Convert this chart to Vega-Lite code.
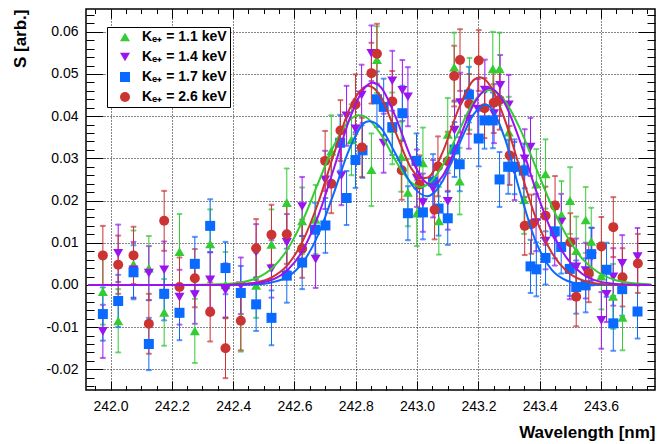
{
"$schema": "https://vega.github.io/schema/vega-lite/v6.json",
"width": 569, "height": 381,
"autosize": {"type": "none"},
"padding": {"left": 86, "top": 9, "right": 12, "bottom": 54},
"background": "white",
"config": {"view": {"stroke": "black", "strokeWidth": 1.5}},
"datasets": {
"pts": [
{"s":"1.1","x":241.975,"y":-0.0016,"ey":0.0078},{"s":"1.1","x":242.025,"y":-0.0085,"ey":0.0075},{"s":"1.1","x":242.075,"y":0.0049,"ey":0.0080},{"s":"1.1","x":242.125,"y":0.0040,"ey":0.0076},{"s":"1.1","x":242.175,"y":-0.0065,"ey":0.0079},{"s":"1.1","x":242.225,"y":0.0079,"ey":0.0089},{"s":"1.1","x":242.275,"y":-0.0109,"ey":0.0076},{"s":"1.1","x":242.325,"y":0.0097,"ey":0.0082},{"s":"1.1","x":242.375,"y":0.0000,"ey":0.0078},{"s":"1.1","x":242.425,"y":-0.0078,"ey":0.0080},{"s":"1.1","x":242.475,"y":-0.0001,"ey":0.0077},{"s":"1.1","x":242.525,"y":0.0096,"ey":0.0083},{"s":"1.1","x":242.575,"y":0.0195,"ey":0.0081},{"s":"1.1","x":242.625,"y":0.0152,"ey":0.0079},{"s":"1.1","x":242.669,"y":0.0155,"ey":0.0082},{"s":"1.1","x":242.720,"y":0.0317,"ey":0.0085},{"s":"1.1","x":242.786,"y":0.0344,"ey":0.0084},{"s":"1.1","x":242.851,"y":0.0273,"ey":0.0086},{"s":"1.1","x":242.869,"y":0.0534,"ey":0.0079},{"s":"1.1","x":242.919,"y":0.0371,"ey":0.0085},{"s":"1.1","x":242.948,"y":0.0304,"ey":0.0083},{"s":"1.1","x":242.970,"y":0.0219,"ey":0.0080},{"s":"1.1","x":242.999,"y":0.0170,"ey":0.0078},{"s":"1.1","x":243.019,"y":0.0289,"ey":0.0084},{"s":"1.1","x":243.071,"y":0.0152,"ey":0.0080},{"s":"1.1","x":243.100,"y":0.0357,"ey":0.0086},{"s":"1.1","x":243.121,"y":0.0516,"ey":0.0082},{"s":"1.1","x":243.139,"y":0.0246,"ey":0.0079},{"s":"1.1","x":243.171,"y":0.0453,"ey":0.0085},{"s":"1.1","x":243.247,"y":0.0512,"ey":0.0088},{"s":"1.1","x":243.269,"y":0.0512,"ey":0.0086},{"s":"1.1","x":243.299,"y":0.0362,"ey":0.0084},{"s":"1.1","x":243.349,"y":0.0202,"ey":0.0081},{"s":"1.1","x":243.389,"y":0.0239,"ey":0.0083},{"s":"1.1","x":243.419,"y":0.0263,"ey":0.0082},{"s":"1.1","x":243.471,"y":0.0166,"ey":0.0080},{"s":"1.1","x":243.499,"y":0.0200,"ey":0.0079},{"s":"1.1","x":243.519,"y":0.0081,"ey":0.0081},{"s":"1.1","x":243.550,"y":0.0154,"ey":0.0078},{"s":"1.1","x":243.568,"y":0.0103,"ey":0.0080},{"s":"1.1","x":243.601,"y":0.0021,"ey":0.0079},{"s":"1.1","x":243.639,"y":-0.0027,"ey":0.0077},{"s":"1.1","x":243.670,"y":-0.0077,"ey":0.0078},
{"s":"1.4","x":241.975,"y":-0.0110,"ey":0.0063},{"s":"1.4","x":242.025,"y":0.0075,"ey":0.0068},{"s":"1.4","x":242.075,"y":0.0036,"ey":0.0066},{"s":"1.4","x":242.125,"y":0.0028,"ey":0.0064},{"s":"1.4","x":242.175,"y":0.0036,"ey":0.0067},{"s":"1.4","x":242.225,"y":-0.0029,"ey":0.0065},{"s":"1.4","x":242.275,"y":-0.0023,"ey":0.0069},{"s":"1.4","x":242.325,"y":0.0012,"ey":0.0066},{"s":"1.4","x":242.375,"y":-0.0013,"ey":0.0064},{"s":"1.4","x":242.425,"y":-0.0002,"ey":0.0067},{"s":"1.4","x":242.475,"y":0.0078,"ey":0.0066},{"s":"1.4","x":242.525,"y":0.0038,"ey":0.0068},{"s":"1.4","x":242.575,"y":0.0101,"ey":0.0067},{"s":"1.4","x":242.625,"y":0.0186,"ey":0.0070},{"s":"1.4","x":242.669,"y":0.0061,"ey":0.0068},{"s":"1.4","x":242.700,"y":0.0249,"ey":0.0069},{"s":"1.4","x":242.753,"y":0.0259,"ey":0.0070},{"s":"1.4","x":242.770,"y":0.0401,"ey":0.0071},{"s":"1.4","x":242.799,"y":0.0370,"ey":0.0070},{"s":"1.4","x":242.819,"y":0.0450,"ey":0.0072},{"s":"1.4","x":242.851,"y":0.0549,"ey":0.0066},{"s":"1.4","x":242.891,"y":0.0336,"ey":0.0070},{"s":"1.4","x":242.919,"y":0.0484,"ey":0.0071},{"s":"1.4","x":242.952,"y":0.0461,"ey":0.0072},{"s":"1.4","x":242.970,"y":0.0446,"ey":0.0070},{"s":"1.4","x":242.999,"y":0.0253,"ey":0.0068},{"s":"1.4","x":243.019,"y":0.0195,"ey":0.0069},{"s":"1.4","x":243.052,"y":0.0228,"ey":0.0068},{"s":"1.4","x":243.100,"y":0.0198,"ey":0.0067},{"s":"1.4","x":243.122,"y":0.0367,"ey":0.0070},{"s":"1.4","x":243.141,"y":0.0432,"ey":0.0071},{"s":"1.4","x":243.169,"y":0.0393,"ey":0.0070},{"s":"1.4","x":243.198,"y":0.0417,"ey":0.0071},{"s":"1.4","x":243.221,"y":0.0462,"ey":0.0072},{"s":"1.4","x":243.251,"y":0.0406,"ey":0.0070},{"s":"1.4","x":243.271,"y":0.0473,"ey":0.0072},{"s":"1.4","x":243.299,"y":0.0427,"ey":0.0071},{"s":"1.4","x":243.318,"y":0.0270,"ey":0.0069},{"s":"1.4","x":243.351,"y":0.0299,"ey":0.0070},{"s":"1.4","x":243.370,"y":0.0327,"ey":0.0069},{"s":"1.4","x":243.388,"y":0.0148,"ey":0.0068},{"s":"1.4","x":243.419,"y":0.0104,"ey":0.0067},{"s":"1.4","x":243.449,"y":0.0114,"ey":0.0068},{"s":"1.4","x":243.470,"y":0.0149,"ey":0.0067},{"s":"1.4","x":243.498,"y":0.0032,"ey":0.0066},{"s":"1.4","x":243.519,"y":0.0043,"ey":0.0067},{"s":"1.4","x":243.550,"y":0.0034,"ey":0.0066},{"s":"1.4","x":243.570,"y":0.0067,"ey":0.0068},{"s":"1.4","x":243.601,"y":-0.0084,"ey":0.0067},{"s":"1.4","x":243.618,"y":-0.0022,"ey":0.0066},{"s":"1.4","x":243.640,"y":0.0019,"ey":0.0068},{"s":"1.4","x":243.669,"y":0.0051,"ey":0.0067},{"s":"1.4","x":243.719,"y":0.0067,"ey":0.0068},
{"s":"1.7","x":241.975,"y":-0.0069,"ey":0.0063},{"s":"1.7","x":242.025,"y":-0.0038,"ey":0.0062},{"s":"1.7","x":242.075,"y":0.0030,"ey":0.0064},{"s":"1.7","x":242.125,"y":-0.0140,"ey":0.0062},{"s":"1.7","x":242.175,"y":-0.0021,"ey":0.0063},{"s":"1.7","x":242.225,"y":-0.0066,"ey":0.0065},{"s":"1.7","x":242.275,"y":0.0050,"ey":0.0064},{"s":"1.7","x":242.325,"y":0.0140,"ey":0.0063},{"s":"1.7","x":242.375,"y":0.0040,"ey":0.0062},{"s":"1.7","x":242.425,"y":-0.0019,"ey":0.0064},{"s":"1.7","x":242.475,"y":-0.0046,"ey":0.0063},{"s":"1.7","x":242.525,"y":-0.0078,"ey":0.0065},{"s":"1.7","x":242.575,"y":0.0022,"ey":0.0064},{"s":"1.7","x":242.625,"y":0.0053,"ey":0.0063},{"s":"1.7","x":242.667,"y":0.0131,"ey":0.0064},{"s":"1.7","x":242.701,"y":0.0141,"ey":0.0065},{"s":"1.7","x":242.749,"y":0.0337,"ey":0.0066},{"s":"1.7","x":242.770,"y":0.0206,"ey":0.0064},{"s":"1.7","x":242.799,"y":0.0296,"ey":0.0066},{"s":"1.7","x":242.822,"y":0.0319,"ey":0.0065},{"s":"1.7","x":242.869,"y":0.0440,"ey":0.0066},{"s":"1.7","x":242.891,"y":0.0422,"ey":0.0067},{"s":"1.7","x":242.919,"y":0.0374,"ey":0.0066},{"s":"1.7","x":242.952,"y":0.0407,"ey":0.0065},{"s":"1.7","x":242.970,"y":0.0170,"ey":0.0064},{"s":"1.7","x":242.998,"y":0.0294,"ey":0.0065},{"s":"1.7","x":243.019,"y":0.0172,"ey":0.0064},{"s":"1.7","x":243.052,"y":0.0245,"ey":0.0065},{"s":"1.7","x":243.070,"y":0.0181,"ey":0.0064},{"s":"1.7","x":243.100,"y":0.0158,"ey":0.0063},{"s":"1.7","x":243.122,"y":0.0321,"ey":0.0065},{"s":"1.7","x":243.139,"y":0.0286,"ey":0.0064},{"s":"1.7","x":243.169,"y":0.0451,"ey":0.0066},{"s":"1.7","x":243.201,"y":0.0347,"ey":0.0066},{"s":"1.7","x":243.220,"y":0.0390,"ey":0.0067},{"s":"1.7","x":243.247,"y":0.0390,"ey":0.0066},{"s":"1.7","x":243.269,"y":0.0250,"ey":0.0065},{"s":"1.7","x":243.297,"y":0.0280,"ey":0.0064},{"s":"1.7","x":243.318,"y":0.0280,"ey":0.0065},{"s":"1.7","x":243.348,"y":0.0271,"ey":0.0064},{"s":"1.7","x":243.370,"y":0.0044,"ey":0.0063},{"s":"1.7","x":243.389,"y":0.0037,"ey":0.0064},{"s":"1.7","x":243.419,"y":0.0064,"ey":0.0063},{"s":"1.7","x":243.449,"y":0.0127,"ey":0.0064},{"s":"1.7","x":243.470,"y":0.0090,"ey":0.0063},{"s":"1.7","x":243.498,"y":0.0038,"ey":0.0064},{"s":"1.7","x":243.519,"y":-0.0005,"ey":0.0063},{"s":"1.7","x":243.550,"y":-0.0001,"ey":0.0064},{"s":"1.7","x":243.568,"y":0.0073,"ey":0.0063},{"s":"1.7","x":243.618,"y":0.0036,"ey":0.0064},{"s":"1.7","x":243.640,"y":-0.0091,"ey":0.0065},{"s":"1.7","x":243.669,"y":-0.0010,"ey":0.0063},{"s":"1.7","x":243.719,"y":-0.0063,"ey":0.0064},
{"s":"2.6","x":241.975,"y":0.0070,"ey":0.0070},{"s":"2.6","x":242.025,"y":0.0048,"ey":0.0069},{"s":"2.6","x":242.075,"y":0.0070,"ey":0.0068},{"s":"2.6","x":242.125,"y":-0.0092,"ey":0.0071},{"s":"2.6","x":242.175,"y":0.0152,"ey":0.0071},{"s":"2.6","x":242.225,"y":-0.0005,"ey":0.0070},{"s":"2.6","x":242.275,"y":0.0016,"ey":0.0069},{"s":"2.6","x":242.325,"y":-0.0064,"ey":0.0070},{"s":"2.6","x":242.375,"y":-0.0150,"ey":0.0071},{"s":"2.6","x":242.425,"y":-0.0085,"ey":0.0070},{"s":"2.6","x":242.475,"y":0.0087,"ey":0.0069},{"s":"2.6","x":242.525,"y":0.0119,"ey":0.0071},{"s":"2.6","x":242.575,"y":0.0120,"ey":0.0070},{"s":"2.6","x":242.625,"y":0.0086,"ey":0.0069},{"s":"2.6","x":242.700,"y":0.0294,"ey":0.0071},{"s":"2.6","x":242.720,"y":0.0240,"ey":0.0070},{"s":"2.6","x":242.750,"y":0.0366,"ey":0.0072},{"s":"2.6","x":242.799,"y":0.0428,"ey":0.0071},{"s":"2.6","x":242.820,"y":0.0326,"ey":0.0070},{"s":"2.6","x":242.851,"y":0.0502,"ey":0.0072},{"s":"2.6","x":242.869,"y":0.0548,"ey":0.0071},{"s":"2.6","x":242.919,"y":0.0435,"ey":0.0072},{"s":"2.6","x":242.950,"y":0.0272,"ey":0.0070},{"s":"2.6","x":243.008,"y":0.0238,"ey":0.0069},{"s":"2.6","x":243.057,"y":0.0178,"ey":0.0070},{"s":"2.6","x":243.068,"y":0.0281,"ey":0.0071},{"s":"2.6","x":243.100,"y":0.0293,"ey":0.0070},{"s":"2.6","x":243.121,"y":0.0495,"ey":0.0072},{"s":"2.6","x":243.140,"y":0.0533,"ey":0.0073},{"s":"2.6","x":243.170,"y":0.0429,"ey":0.0071},{"s":"2.6","x":243.201,"y":0.0532,"ey":0.0072},{"s":"2.6","x":243.220,"y":0.0419,"ey":0.0071},{"s":"2.6","x":243.250,"y":0.0432,"ey":0.0072},{"s":"2.6","x":243.269,"y":0.0439,"ey":0.0071},{"s":"2.6","x":243.302,"y":0.0307,"ey":0.0070},{"s":"2.6","x":243.351,"y":0.0140,"ey":0.0069},{"s":"2.6","x":243.373,"y":0.0144,"ey":0.0070},{"s":"2.6","x":243.419,"y":0.0164,"ey":0.0069},{"s":"2.6","x":243.450,"y":0.0188,"ey":0.0070},{"s":"2.6","x":243.500,"y":0.0101,"ey":0.0069},{"s":"2.6","x":243.519,"y":-0.0028,"ey":0.0070},{"s":"2.6","x":243.560,"y":0.0028,"ey":0.0069},{"s":"2.6","x":243.601,"y":0.0091,"ey":0.0070},{"s":"2.6","x":243.640,"y":0.0137,"ey":0.0071},{"s":"2.6","x":243.670,"y":0.0018,"ey":0.0069},{"s":"2.6","x":243.720,"y":0.0051,"ey":0.0070}
],
"fit": [
{"s":"1.1","x":241.928,"y":0},{"s":"1.1","x":242.222,"y":0},{"s":"1.1","x":242.374,"y":0.0002},{"s":"1.1","x":242.425,"y":0.0006},{"s":"1.1","x":242.476,"y":0.0016},{"s":"1.1","x":242.526,"y":0.0039},{"s":"1.1","x":242.577,"y":0.0084},{"s":"1.1","x":242.627,"y":0.0153},{"s":"1.1","x":242.678,"y":0.0243},{"s":"1.1","x":242.729,"y":0.0331},{"s":"1.1","x":242.779,"y":0.0390},{"s":"1.1","x":242.810,"y":0.0402},{"s":"1.1","x":242.830,"y":0.0399},{"s":"1.1","x":242.881,"y":0.0358},{"s":"1.1","x":242.931,"y":0.0293},{"s":"1.1","x":242.982,"y":0.0242},{"s":"1.1","x":243.012,"y":0.0232},{"s":"1.1","x":243.033,"y":0.0237},{"s":"1.1","x":243.083,"y":0.0283},{"s":"1.1","x":243.134,"y":0.0361},{"s":"1.1","x":243.185,"y":0.0434},{"s":"1.1","x":243.235,"y":0.0462},{"s":"1.1","x":243.286,"y":0.0436},{"s":"1.1","x":243.337,"y":0.0368},{"s":"1.1","x":243.387,"y":0.0279},{"s":"1.1","x":243.438,"y":0.0189},{"s":"1.1","x":243.489,"y":0.0115},{"s":"1.1","x":243.539,"y":0.0062},{"s":"1.1","x":243.590,"y":0.0030},{"s":"1.1","x":243.641,"y":0.0013},{"s":"1.1","x":243.691,"y":0.0005},{"s":"1.1","x":243.742,"y":0.0002},{"s":"1.1","x":243.764,"y":0.0001},
{"s":"1.7","x":241.928,"y":0},{"s":"1.7","x":242.222,"y":0},{"s":"1.7","x":242.425,"y":0},{"s":"1.7","x":242.476,"y":0.0001},{"s":"1.7","x":242.526,"y":0.0006},{"s":"1.7","x":242.577,"y":0.0019},{"s":"1.7","x":242.627,"y":0.0053},{"s":"1.7","x":242.678,"y":0.0120},{"s":"1.7","x":242.729,"y":0.0219},{"s":"1.7","x":242.779,"y":0.0322},{"s":"1.7","x":242.830,"y":0.0385},{"s":"1.7","x":242.845,"y":0.0388},{"s":"1.7","x":242.881,"y":0.0373},{"s":"1.7","x":242.931,"y":0.0309},{"s":"1.7","x":242.982,"y":0.0238},{"s":"1.7","x":243.033,"y":0.0210},{"s":"1.7","x":243.053,"y":0.0217},{"s":"1.7","x":243.083,"y":0.0246},{"s":"1.7","x":243.134,"y":0.0328},{"s":"1.7","x":243.185,"y":0.0405},{"s":"1.7","x":243.225,"y":0.0427},{"s":"1.7","x":243.286,"y":0.0348},{"s":"1.7","x":243.337,"y":0.0217},{"s":"1.7","x":243.387,"y":0.0103},{"s":"1.7","x":243.438,"y":0.0037},{"s":"1.7","x":243.489,"y":0.0010},{"s":"1.7","x":243.539,"y":0.0002},{"s":"1.7","x":243.590,"y":0},{"s":"1.7","x":243.764,"y":0},
{"s":"2.6","x":241.928,"y":0},{"s":"2.6","x":242.222,"y":0},{"s":"2.6","x":242.374,"y":0},{"s":"2.6","x":242.425,"y":0.0002},{"s":"2.6","x":242.476,"y":0.0006},{"s":"2.6","x":242.526,"y":0.0018},{"s":"2.6","x":242.577,"y":0.0047},{"s":"2.6","x":242.627,"y":0.0104},{"s":"2.6","x":242.678,"y":0.0196},{"s":"2.6","x":242.729,"y":0.0311},{"s":"2.6","x":242.779,"y":0.0416},{"s":"2.6","x":242.840,"y":0.0472},{"s":"2.6","x":242.881,"y":0.0447},{"s":"2.6","x":242.931,"y":0.0360},{"s":"2.6","x":242.982,"y":0.0275},{"s":"2.6","x":243.012,"y":0.0253},{"s":"2.6","x":243.033,"y":0.0254},{"s":"2.6","x":243.083,"y":0.0314},{"s":"2.6","x":243.134,"y":0.0415},{"s":"2.6","x":243.185,"y":0.0486},{"s":"2.6","x":243.205,"y":0.0492},{"s":"2.6","x":243.235,"y":0.0476},{"s":"2.6","x":243.286,"y":0.0392},{"s":"2.6","x":243.337,"y":0.0272},{"s":"2.6","x":243.387,"y":0.0159},{"s":"2.6","x":243.438,"y":0.0078},{"s":"2.6","x":243.489,"y":0.0032},{"s":"2.6","x":243.539,"y":0.0011},{"s":"2.6","x":243.590,"y":0.0003},{"s":"2.6","x":243.641,"y":0.0001},{"s":"2.6","x":243.764,"y":0},
{"s":"1.4","x":241.928,"y":0},{"s":"1.4","x":242.222,"y":0},{"s":"1.4","x":242.374,"y":0},{"s":"1.4","x":242.425,"y":0.0001},{"s":"1.4","x":242.476,"y":0.0004},{"s":"1.4","x":242.526,"y":0.0012},{"s":"1.4","x":242.577,"y":0.0035},{"s":"1.4","x":242.627,"y":0.0082},{"s":"1.4","x":242.678,"y":0.0165},{"s":"1.4","x":242.729,"y":0.0277},{"s":"1.4","x":242.779,"y":0.0392},{"s":"1.4","x":242.830,"y":0.0468},{"s":"1.4","x":242.855,"y":0.0479},{"s":"1.4","x":242.881,"y":0.0469},{"s":"1.4","x":242.931,"y":0.0396},{"s":"1.4","x":242.982,"y":0.0299},{"s":"1.4","x":243.033,"y":0.0241},{"s":"1.4","x":243.053,"y":0.0238},{"s":"1.4","x":243.083,"y":0.0258},{"s":"1.4","x":243.134,"y":0.0339},{"s":"1.4","x":243.185,"y":0.0429},{"s":"1.4","x":243.235,"y":0.0467},{"s":"1.4","x":243.286,"y":0.0430},{"s":"1.4","x":243.337,"y":0.0338},{"s":"1.4","x":243.387,"y":0.0226},{"s":"1.4","x":243.438,"y":0.0129},{"s":"1.4","x":243.489,"y":0.0063},{"s":"1.4","x":243.539,"y":0.0026},{"s":"1.4","x":243.590,"y":0.0009},{"s":"1.4","x":243.641,"y":0.0003},{"s":"1.4","x":243.691,"y":0.0001},{"s":"1.4","x":243.764,"y":0}
]
},
"layer": [
{
"data": {"name": "pts"},
"encoding": {
"x": {"field": "x", "type": "quantitative", "scale": {"domain": [241.92, 243.776], "nice": false, "zero": false},
 "axis": {"orient": "bottom",
  "values": [241.95,242,242.05,242.1,242.15,242.2,242.25,242.3,242.35,242.4,242.45,242.5,242.55,242.6,242.65,242.7,242.75,242.8,242.85,242.9,242.95,243,243.05,243.1,243.15,243.2,243.25,243.3,243.35,243.4,243.45,243.5,243.55,243.6,243.65,243.7,243.75],
  "labelExpr": "round(datum.value*100) % 20 == 0 ? format(datum.value, '.1f') : ''",
  "labelOverlap": false, "labelFlush": false, "labelBound": false,
  "labelFont": "Liberation Sans", "labelFontSize": 14, "labelColor": "black", "labelPadding": 18, "labelBaseline": "top",
  "tickColor": "black", "tickWidth": 1,
  "tickSize": {"condition": {"test": "round(datum.value*100) % 20 == 0", "value": -9}, "value": -4.5},
  "grid": true, "gridColor": "black", "gridDash": [1, 2], "gridWidth": 1,
  "gridOpacity": {"condition": {"test": "round(datum.value*100) % 20 == 0", "value": 0.95}, "value": 0},
  "domain": false,
  "title": "Wavelength [nm]", "titleFont": "Liberation Sans", "titleFontSize": 17, "titleFontWeight": "bold", "titleColor": "black",
  "titleAnchor": "end", "titleAlign": "right", "titleBaseline": "alphabetic", "titleX": 569, "titleY": 47}},
"y": {"field": "y", "type": "quantitative", "scale": {"domain": [-0.0249, 0.0654], "nice": false, "zero": false},
 "axis": {"orient": "left",
  "values": [-0.024,-0.022,-0.02,-0.018,-0.016,-0.014,-0.012,-0.01,-0.008,-0.006,-0.004,-0.002,0,0.002,0.004,0.006,0.008,0.01,0.012,0.014,0.016,0.018,0.02,0.022,0.024,0.026,0.028,0.03,0.032,0.034,0.036,0.038,0.04,0.042,0.044,0.046,0.048,0.05,0.052,0.054,0.056,0.058,0.06,0.062,0.064],
  "labelExpr": "round(datum.value*1000) % 10 == 0 ? (datum.value < 0 ? '-' : '') + format(abs(datum.value), '.2f') : ''",
  "labelOverlap": false, "labelFlush": false, "labelBound": false,
  "labelFont": "Liberation Sans", "labelFontSize": 14, "labelColor": "black", "labelPadding": 25, "labelAlign": "right", "labelBaseline": "middle",
  "tickColor": "black", "tickWidth": 1,
  "tickSize": {"condition": {"test": "round(datum.value*1000) % 10 == 0", "value": -17}, "value": -8},
  "grid": true, "gridColor": "black", "gridDash": [1, 2], "gridWidth": 1,
  "gridOpacity": {"condition": {"test": "round(datum.value*1000) % 10 == 0", "value": 0.95}, "value": 0},
  "domain": false,
  "title": "S [arb.]", "titleFont": "Liberation Sans", "titleFontSize": 17, "titleFontWeight": "bold", "titleColor": "black",
  "titleAnchor": "end", "titleAngle": 270, "titleAlign": "right", "titleBaseline": "top", "titleX": -74, "titleY": 0}}
},
"layer": [
{"mark": {"type": "errorbar", "ticks": {"size": 5}, "thickness": 1},
 "encoding": {"yError": {"field": "ey"},
  "stroke": {"field": "s", "type": "nominal", "scale": {"domain": ["2.6","1.7","1.4","1.1"], "range": ["#cc3333","#0a6aff","#9a14f0","#33cc33"]}, "legend": null}}},
{"mark": {"type": "errorbar", "ticks": {"size": 5}, "thickness": 1},
 "encoding": {"xError": {"value": 0.025},
  "stroke": {"field": "s", "type": "nominal", "scale": {"domain": ["2.6","1.7","1.4","1.1"], "range": ["#cc3333","#0a6aff","#9a14f0","#33cc33"]}, "legend": null}}},
{"mark": {"type": "point", "filled": true, "size": 100, "opacity": 1},
 "encoding": {
  "color": {"field": "s", "type": "nominal", "scale": {"domain": ["1.1","1.4","1.7","2.6"], "range": ["#33cc33","#9a14f0","#0a6aff","#cc3333"]},
   "legend": {"title": null, "orient": "none", "legendX": 21, "legendY": 18, "direction": "vertical", "strokeColor": "black", "fillColor": "white", "padding": 3, "symbolOffset": 8, "labelOffset": 10, "rowPadding": 6, "labelFont": "Liberation Sans", "labelFontSize": 14, "labelFontWeight": "bold", "labelColor": "black", "symbolSize": 100, "labelExpr": "'Kₑ₊ = ' + datum.label + ' keV'"}},
  "shape": {"field": "s", "type": "nominal", "scale": {"domain": ["1.1","1.4","1.7","2.6"], "range": ["triangle-up","triangle-down","square","circle"]},
   "legend": {"title": null, "orient": "none", "legendX": 21, "legendY": 18, "direction": "vertical", "strokeColor": "black", "fillColor": "white", "padding": 3, "symbolOffset": 8, "labelOffset": 10, "rowPadding": 6, "labelFont": "Liberation Sans", "labelFontSize": 14, "labelFontWeight": "bold", "labelColor": "black", "symbolSize": 100, "labelExpr": "'Kₑ₊ = ' + datum.label + ' keV'"}}
 }}
]
},
{
"data": {"name": "fit"},
"mark": {"type": "line", "strokeWidth": 2, "interpolate": "monotone", "clip": true},
"encoding": {
"x": {"field": "x", "type": "quantitative", "scale": {"domain": [241.92, 243.776], "nice": false, "zero": false},
 "axis": {"orient": "top",
  "values": [241.95,242,242.05,242.1,242.15,242.2,242.25,242.3,242.35,242.4,242.45,242.5,242.55,242.6,242.65,242.7,242.75,242.8,242.85,242.9,242.95,243,243.05,243.1,243.15,243.2,243.25,243.3,243.35,243.4,243.45,243.5,243.55,243.6,243.65,243.7,243.75],
  "labels": false, "grid": false, "domain": false, "title": null, "tickColor": "black", "tickWidth": 1,
  "tickSize": {"condition": {"test": "round(datum.value*100) % 20 == 0", "value": -9}, "value": -4.5}}},
"y": {"field": "y", "type": "quantitative", "scale": {"domain": [-0.0249, 0.0654], "nice": false, "zero": false},
 "axis": {"orient": "right",
  "values": [-0.024,-0.022,-0.02,-0.018,-0.016,-0.014,-0.012,-0.01,-0.008,-0.006,-0.004,-0.002,0,0.002,0.004,0.006,0.008,0.01,0.012,0.014,0.016,0.018,0.02,0.022,0.024,0.026,0.028,0.03,0.032,0.034,0.036,0.038,0.04,0.042,0.044,0.046,0.048,0.05,0.052,0.054,0.056,0.058,0.06,0.062,0.064],
  "labels": false, "grid": false, "domain": false, "title": null, "tickColor": "black", "tickWidth": 1,
  "tickSize": {"condition": {"test": "round(datum.value*1000) % 10 == 0", "value": -17}, "value": -8}}},
"stroke": {"field": "s", "type": "nominal", "sort": null, "scale": {"domain": ["2.6","1.7","1.4","1.1"], "range": ["#cc3333","#0a6aff","#9a14f0","#33cc33"]}, "legend": null}
}
}
],
"resolve": {"axis": {"x": "independent", "y": "independent"}}
}
